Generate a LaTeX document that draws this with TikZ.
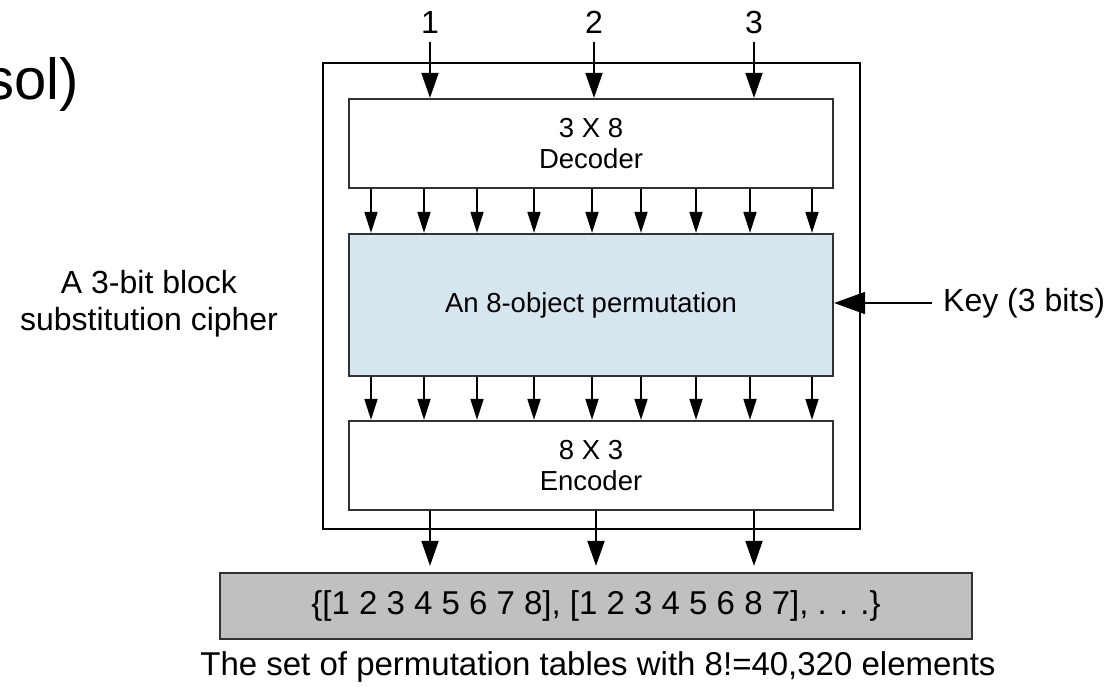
\documentclass[tikz,border=0pt]{standalone}
\usepackage{fontspec}
\setmainfont{Liberation Sans}
\usetikzlibrary{arrows.meta}
\definecolor{permblue}{RGB}{213,230,238}
\definecolor{tablegray}{RGB}{192,192,192}
\definecolor{edge}{RGB}{50,50,50}
\begin{document}
\begin{tikzpicture}[x=1pt,y=-1pt,
  boxtext/.style={font=\fontsize{27.5}{31}\selectfont, align=center},
  bigtext/.style={font=\fontsize{32}{37}\selectfont, align=center},
  tabletext/.style={font=\fontsize{33}{37}\selectfont, align=center},
  block/.style={draw=edge, line width=2.2pt, minimum width=484pt, inner sep=0pt, boxtext},
  wire/.style={line width=1.8pt, -{Triangle[length=21pt,width=13pt]}},
  bigwire/.style={line width=1.8pt, -{Triangle[length=25pt,width=17pt]}},
  keywire/.style={line width=1.8pt, -{Triangle[length=31pt,width=22pt]}}]
\useasboundingbox (0,0) rectangle (1114,687);

% heading fragment in the top-left corner
\node[anchor=base east, inner sep=0pt, font=\fontsize{58}{64}\selectfont] (head) at (79,100) {sol)};

% enclosing cipher box and its three stages
\node[draw=black, line width=2pt, minimum width=537pt, minimum height=466pt, inner sep=0pt] (outer) at (591.5,296) {};
\node[block, minimum height=89pt] (dec) at (591,143.5) {3 X 8\\Decoder};
\node[block, minimum height=142pt, fill=permblue] (perm) at (591,305) {An 8-object permutation};
\node[block, minimum height=89pt] (enc) at (591,465.5) {8 X 3\\Encoder};

% table of permutations and its caption
\node[draw=edge, line width=2.2pt, fill=tablegray, minimum width=752pt, minimum height=66pt, inner sep=0pt, tabletext] (table) at (596,606) {\{[1 2 3 4 5 6 7 8], [1 2 3 4 5 6 8 7], . . .\}};
\node[tabletext] (caption) at (598,667) {The set of permutation tables with 8!=40,320 elements};

% side labels
\node[bigtext] (cipher) at (149,304) {A 3-bit block\\substitution cipher};
\node[bigtext, anchor=west, inner sep=0pt] (key) at (943,303) {Key (3 bits)};
\coordinate (keyend) at (932,303);
\draw[keywire] (keyend) -- (perm.east |- keyend);

% input bits
\foreach \i/\x in {1/430, 2/594, 3/754} {
  \node[bigtext] (in\i) at (\x,22) {\i};
  \coordinate (inx\i) at (\x,0);
  \draw[bigwire] (\x,42) -- (dec.north -| inx\i);
}

% output bits
\foreach \i/\x in {1/430, 2/596, 3/754} {
  \coordinate (outx\i) at (\x,0);
  \draw[bigwire, shorten >=6pt] (enc.south -| outx\i) -- (table.north -| outx\i);
}

% decoder lines into the permutation and out to the encoder
\foreach \x [count=\k] in {371,424,477,534,592,641,696,750,812} {
  \coordinate (col\k) at (\x,0);
  \draw[wire] (dec.south -| col\k) -- (perm.north -| col\k);
  \draw[wire] (perm.south -| col\k) -- (enc.north -| col\k);
}
\end{tikzpicture}
\end{document}
